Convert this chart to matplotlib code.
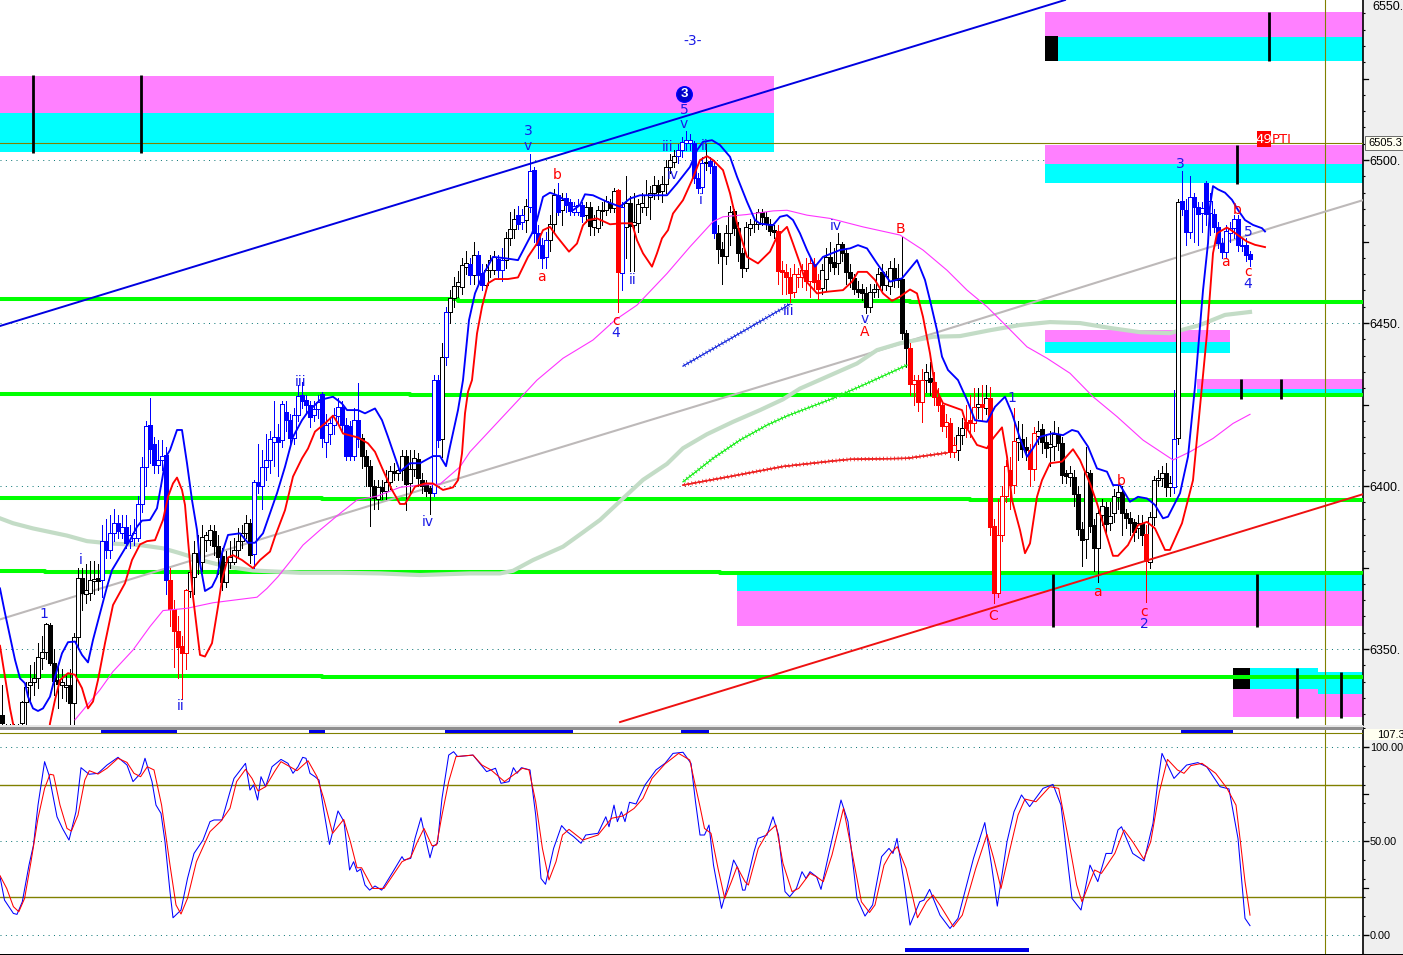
import numpy as np
import matplotlib
matplotlib.use("Agg")
import matplotlib.pyplot as plt
from matplotlib.patches import Rectangle
from matplotlib.ticker import MultipleLocator, FixedLocator, FuncFormatter
import matplotlib.patheffects as pe

W, H = 1403, 955
BASE = 6000.0
BAR_STEP = 4.0

# ---------- candles (price minus 6000), one row = 10 bars ----------
opens = [
329.8,325,325,325,325,327.2,333.9,339,340,341,
347.2,349.2,357.4,345.6,340.5,339,338.3,339,333.6,353.8,
371.7,367,367.3,371,371.7,371.2,383,380.4,385.7,388.6,
385.5,387.5,383,384,384,394.4,405.7,418.7,413,406.4,
408,409.5,371.2,362.2,355.6,351,348.9,367.9,372.2,379.6,
376.8,383.4,383.4,386.3,381.7,378.5,370.5,376.8,376.8,380.4,
383.1,385.5,388.8,379.3,401.1,400.1,405.7,408,413.6,415.1,
414.1,422.8,420.2,414.6,421.8,427.9,426.4,424.8,421.8,423.5,
428.2,413.4,416.1,418.7,421.5,424.3,418.7,418.4,409.2,420.2,
414.6,409.2,406.1,400,395.9,399.8,398.5,401.3,404.7,404.1,
404.9,409.2,401,405.1,408.2,402,400.6,399.3,398,432.5,
414.5,439.7,453.5,457.8,461.3,461.1,467.3,468.1,464.7,471,
465.4,461.6,466.2,466.2,469.8,466.4,469.3,476,479,483.3,
481,481.6,485.7,496.9,477.7,473.9,470.3,475.4,480.3,489.2,
484.8,488.5,487.2,484.1,484.1,486.2,483.1,485.5,479.5,479.3,
484.4,484.6,486.7,485.2,490.8,465.4,479.5,486.7,480,480.8,
485.7,485.5,488.7,489.8,492.3,490.6,492.6,497.9,499.5,501.2,
503.2,505.1,505.3,505.1,494.6,491.8,499,499.7,498.1,477.5,
472.6,470.5,477.5,484.3,479.2,471.6,467,479.2,480.3,480.5,
484.1,482.6,480.5,478.5,478.3,466.2,465.7,464.2,459.6,464.2,
464.2,466.2,462.9,468.1,463.2,460.9,463.5,470.3,468.8,468.3,
474.2,471.4,465.7,463.7,460.6,460.3,459.1,454.8,459.6,460.3,
465.7,461.6,461.3,467,463.2,463.4,446.8,442.2,431.2,432.5,
425.9,432.5,433,432,427.4,424.8,418.5,419.4,410.3,411.1,
415.7,419.7,420.2,419.4,424.1,425.2,423.8,426.9,387.7,367.3,
385,397,404.9,400.3,413.6,414.3,412.1,411,405.1,415.3,
417.4,413.6,412,412.3,415.9,413.1,403.9,402.9,402.9,397.6,
386.8,383.7,404.1,388,380.9,391.1,393.5,388.6,391.8,396.5,
398.3,391.6,390.1,388.9,387,388.8,385.2,376.8,390.6,401.9,
402.4,404.1,399.6,399.8,414.6,487.3,484.7,477.9,488.8,485.7,
483.7,492.9,483.7,483.4,479.4,474.5,471.7,477.6,479.1,481.8,
474,474,471.2]
closes = [
327.2,326,326,326,326,333.9,338.5,340,341,347.5,
349,357.6,345.8,340.3,339.3,340,339,333.6,353.8,371.7,
367.3,368,371.2,371.5,370.9,383,380.4,385.7,388.8,386.3,
387.5,382.6,385,385.5,394.4,405.7,418.4,411.5,406.4,408,
409.2,371.2,362.2,355.6,350.7,348.7,368,373.7,379.4,376.8,
384.5,385,386.5,381.6,378.3,370.5,376.8,378.3,380.4,383.1,
385.5,388.6,379,401.3,400,405.7,408,414.3,415.1,413.6,
425.3,420.2,414.6,421.8,427.6,426.2,424.8,421.3,423.5,425.9,
414.6,418.7,419.2,421.8,424.3,418.7,409.2,409.2,420.2,414.3,
409.2,406.1,400,396.2,399.6,398.5,401.3,404.6,403.9,404.9,
409.2,400.6,405.1,408.5,402.4,400,398.6,398,432.5,414.1,
439.7,453.3,457.8,461.3,462.7,467.8,468.3,464.7,471,464.7,
461.6,466.2,469.3,470.3,466.4,469.3,476,479,481.8,480.5,
483.1,485.9,496.7,477.5,473.9,470.1,475.4,480.3,489.2,484.1,
487.9,486.2,484.4,485.9,486.1,482.8,485.7,479.8,481.6,484.8,
484.8,487.5,485.2,490.6,465.7,485.7,486.9,479.7,481.1,486.5,
486.7,489.2,489.8,492.3,490.3,492.6,497.9,500,501.2,503.2,
505.6,506.1,506.1,494.6,491.5,499,499.5,498.1,477.5,472.6,
470.5,477.5,484.1,479.2,471.4,467,479.5,480.5,480.5,484.1,
482.4,480.5,478.3,478,466.1,465.7,464.2,459.3,465.2,465.2,
466.2,462.9,468.3,462.7,460.6,466.2,470.3,468.5,467.1,474.4,
471.4,465.7,463.7,460.6,459.6,459.1,455,459.6,460.3,465.2,
461.6,464.4,467,463.4,463.7,446.8,442.2,431.2,432.5,425.9,
432.5,434.9,432,427.2,424.8,418.5,419.7,410.3,412.6,415.7,
417.7,417.7,419.2,424.1,425.2,424.1,426.9,387.3,367.3,385,
396.9,406.1,400.3,413.9,414.6,411.3,411,405.1,416.2,417,
413.6,411.8,413,415.9,413.1,403.4,403.1,403.9,397.6,386.8,
383.5,404.4,387.7,380.9,391.6,393.9,388.3,390.8,396.9,398.3,
391.6,390.1,388.6,386,388.6,385,377,390.4,402,402.4,
403.9,399.8,400.8,414.3,487.2,484.9,477.9,488.8,485.7,483.4,
485.2,483.4,487.3,479.4,474.5,471.9,478.1,479.1,481.8,473.8,
473.7,470.9,469.6]
highs = [
339,327,327,327,327,334,340,345,346,352,
354,358,358,350,345,344,342,344,355,375,
375,376,377,377,376,388,390,391,393,391,
391,391,388,390,397,409,420,427,415,414,
414,412,375,365,360,354,368.5,376,383,385,
388,386,388,388,385,381,380,383,384,387,
388,391,390,402,413,411,416,417,426,419,
426,426,422,424,431,432,428,426,426,428,
429,422,421,424,427,426,421,420,424,431.5,
416,411,408,402,402,402,405,406,407,406,
411,411,411,411,410,404,402,400,434,434,
444,455,460,464,466,470,472,470,475,472,
468,468,471,472,471,473,478,484,485,486,
485,488,502,498,480,476,478,483,491,493,
490,490,488,487,488,487,487,487,483,486,
487,489,488,491.5,491,487,495,489,490,488,
490,494,492,495,494,495,500,502,503,505,
507,509,508,506,496,501,505,501,500,480,
475,480,486,485,481,473,481,482,482,485,
485,484,482,480,480,469,468,467,468,467,
468,470,470,470,465,468,473,475,473,477.5,
475,473,468,465,463,462,461,462,462,467,
468,466,469,470,468,476.5,448,444,434,434,
436,437.5,438,435,430,426,422,421,415,418,
421,425,428,430,430,431,431,430.5,390,396,
400,408,409,424,420,419,415,413,418,420,
419,416,417,420,418,415,405,406,405,400,
389,412,405,390,393,396,395,395,399,400,
400,393,392,390,391,391,388,392,403,405,
406,407,403,429.5,488,496.5,488,495,490,487,
487,493.5,490,485,481,476,480,481,483,483,
476,476,472]
lows = [
327,324,324,324,324,326,326,334,336,338,
344,347,345,336,332,335,334,327,327,350,
362,364,365,367,368,366,378,378,383,384,
384,381,381,382,383,392,400,407,404,404,
405,367,357,344.4,341,334.8,344,366,367,373,
374,380,382,379,373,368,369,375,376,378,
381,384,376.5,375,398,393,402,404,406,403,
412,417,413,413,420,424,422,418,420,421,
412,409,413,416,419,417,408,408,408,412,
405.5,400,387.8,393,393,396,396,399,402,402,
402,392.5,398,403,400,398,397,391.5,397,412,
409,437,450,455,458,459,465,462,462,462,
460,460,464,465,464,463,467,474,476,479,
479,478,484,475,470,467,467,472,478,483,
480,484,483,483,483,481,481,477,477,478,
480,483,484,484,453.5,460,470,466,466,478,
484,483,482,488,488,487,490,496,498,499,
501,503,503,493,490,490,497,496,476,468.5,
462,468,474,477,469,464,466,477,478,479,
480,479,477,476,462,459,459,456.5,458,461,
461,460,458,460,457.5,459,460,466,465,465,
469,462,461,459,458,457,453,453.5,458,458,
460,460,459,461,461,445,436.5,428,425,423,
419.5,429,428,425,423,417,415,409,409,408,
413,415,415,417,421,420,422,385,364,366,
383,395,393,398,408,409,408,400,402,413,
410,409,406,408,411,401,401,400,394,385,
375.6,378,386,374,370.5,388,386,386.5,389,393,
385,387,385,383,384,382,364.3,375,388,400,
400,397,397,398,413,483,474,476,475,474,
478,480,477,478,473,470,470,475,476,472,
472,469,467.5]
tone_names = list("kbr" + "kbkbkbkbkbkbkbkbkbkb" + "krb" + "kbkb" + "k" + "rkrkrkrkrkrkrk" + "rkbkb")
tone_counts = [25,17,5,16,27,18,2,1,1,5,1,1,2,3,2,3,2,1,5,2,1,1,5,8,1,1,13,7,1,2,15,
               11,22,4,2,6,2,3,1,1,1,7,3,2,27,1,6,1,1,18]

# ---------- indicator lines: (time, price minus 6000) ----------
blue_ma = [(0,368.6),(5,361),(10,353.8),(15,346.7),(20,341),(25,339.5),(28,335.4),(33,331.8),(38,331),(43,331.8),(50,335.4),(55,341.5),(62,348.7),(68,352.1),(75,352.3),(82,348.2),(88,345.9),(93,352.8),(100,361),(107,369.1),(112,374.2),(120,378.3),(130,383.4),(137,387.5),(142,389.4),(150,389.6),(157,393.2),(162,401.8),(166,409),(170,411),(177,417.2),(182,417.2),(187,407),(192,395.7),(197,386.5),(200,376.3),(205,367.8),(212,369.1),(217,372.2),(222,379.4),(228,385),(240,385.5),(248,382.6),(255,382.6),(263,385.5),(270,391.6),(277,397.8),(285,405.9),(293,415.1),(302,420.2),(308,422.8),(320,426.4),(333,427.4),(342,425.3),(347,423.3),(358,423.3),(365,422.3),(375,423.8),(382,420.2),(388,415.1),(397,407),(400,404.4),(410,407),(420,407),(433,409.2),(440,409.2),(446,406.1),(450,412.1),(458,423.3),(463,432.5),
(469,450.9),(475,459.1),(482,464.2),(493,470.3),(507,469.8),(518,469.3),(525,473.4),(532,477.5),(537,481.6),(543,488.7),(550,490),(557,489.2),(565,487.7),(573,484.6),(580,486.2),(585,489.5),(593,489.2),(607,487.2),(620,485.7),(630,488.2),(640,489.2),(667,489.2),(677,492.8),(690,497.9),(697,503),(703,505.6),(712,506.1),(720,504.6),(730,501),(737,494.9),(747,487.2),(755,481.6),(760,480.5),(773,480),(780,482.6),(787,483.1),(793,481.6),(800,477.5),(807,472.4),(815,467.3),(823,470.3),(840,472.4),(850,472.9),(858,473.9),(867,472.9),(877,468.3),(883,465.7),(890,462.7),(902,463.7),
(917,469.3),(925,463.2),(930,457),(937,447.8),(942,439.7),(948,435.6),(958,432.5),(967,426.4),(975,420.2),(987,419.7),(995,424.3),(1005,427.4),(1012,422.3),(1020,414.6),(1027,409),(1033,411.6),(1040,415.1),(1053,416.2),(1063,415.6),(1072,417.2),(1078,416.7),(1088,412.1),(1097,405.4),(1107,404.4),(1113,400.3),(1120,400.3),(1130,395.2),(1138,396.7),(1147,396.2),(1155,394.2),(1163,390.1),(1168,390.6),(1180,397.8),(1188,409),(1195,430.5),(1200,448.9),(1203,460),(1208,474.5),(1210,485.7),(1213,492),(1218,491),(1225,490),(1232,487.8),(1238,484.7),(1245,481.6),(1253,480.1),(1262,479.1),(1265,478.1)]
red_ma = [(0,351),(5,341.5),(10,331.8),(13,327.2),(25,315),(45,315),(50,327.2),(55,334.4),(60,340.5),(68,342.6),(75,342.1),(82,338),(88,331.8),(93,333.9),(98,340.5),(105,351.8),(113,363.5),(125,370.2),(132,377.3),(140,382.1),(147,383.1),(155,383.4),(163,389.6),(168,396.7),(173,400.8),(177,402.6),(182,398.8),(185,394.2),(188,383.4),(193,366.1),(200,348.2),(205,347.7),(212,351.8),(218,363),(222,371.2),(228,378.1),(233,378.8),(242,377.3),(253,374.8),(260,377.3),(270,379.9),(275,384.5),(285,392.6),(293,402.9),(302,408.5),(308,411.5),(315,416.7),(325,419.2),(333,421.6),(338,419.2),(343,416.1),(358,414.9),(368,413.1),(375,410.5),(383,404.9),(392,398.8),(400,394.5),(405,394.5),(415,399.8),(425,400.8),(433,400.8),(443,398.8),(453,399.6),(458,401.8),(462,410),(465,422.3),(468,428.9),
(472,432.5),(477,446.8),(482,455),(488,462.2),(495,463.5),(508,463.5),(518,464),(528,470.3),(537,474.4),(543,478.5),(550,479.5),(557,476.5),(569,471.9),(577,474.4),(583,480),(588,481.6),(597,482.1),(610,480.3),(622,480.6),(632,480.6),(637,475.4),(643,471.4),(652,467.3),(657,471.4),(662,476),(668,478.5),(673,483.6),(683,487.7),(692,493.8),(700,500),(707,501.2),(713,500),(723,496.9),(730,489.8),(737,480.6),(747,470.3),(758,468.3),(770,471.9),(777,476.5),(787,479.5),(793,474.4),(800,468.3),(805,463.2),(817,459.1),(827,459.6),(843,460.1),(852,462.7),(858,465.7),(867,465.7),(875,463.2),(883,459.1),(892,456.8),(900,458.1),(910,460.3),
(917,459.1),(923,451.9),(930,440.7),(935,430.5),(943,425.4),(953,424.3),(962,423.3),(968,417.2),(977,412.6),(987,411.6),(993,414.6),(1002,418),(1007,409),(1012,395.7),(1020,386.5),(1025,379.4),(1030,382.4),(1037,396.7),(1042,401.8),(1050,407),(1062,407.5),(1073,411.3),(1080,408),(1090,400.8),(1097,394.7),(1105,386.5),(1113,378.6),(1118,378.6),(1128,381.9),(1138,388),(1147,389),(1155,387),(1165,380.4),(1170,380.4),(1182,388.6),(1193,401.8),(1200,424.3),(1207,446.8),(1213,471.4),(1217,477.5),(1220,478.1),(1227,479.3),(1233,478.1),(1240,476.5),(1247,475),(1255,474),(1265,473.3)]
magenta_ma = [(75,328.3),(100,337.5),(113,343.1),(133,349.7),(150,356.9),(163,361.8),(187,362.5),(213,364.2),(257,365.9),(267,368.6),(278,372.2),(290,376.8),(303,381.9),(320,386.5),(340,391.6),(357,395.7),(377,396.9),(400,399.6),(420,400.3),(440,400.6),(460,405.9),(470,410.5),(537,432.5),(563,439.2),(593,444.8),(615,450.9),(637,455.5),(667,465.2),(690,473.4),(713,481.1),(723,482.6),(747,483.3),(773,484.4),(787,484.6),(807,483.1),(830,482.1),(863,479.5),(900,477),(923,472.4),(947,466.2),(967,460.1),(987,455),(1007,448.9),(1027,442.7),(1047,439.2),(1070,434.6),(1093,427.4),(1117,421.3),(1143,414.1),(1173,408),(1190,410.5),(1213,414.6),(1233,419.2),(1250,422)]
grey_ma = [(0,359.1),(470,403.4),(880,441.7),(1280,480),(1363,487.7)]
pale_ma = [(0,390.1),(13,388.6),(33,387),(67,384.8),(87,383.1),(110,382.4),(140,381.9),(163,380.9),(180,379.4),(207,376.8),(227,375.3),(253,374.1),(300,373.4),(340,373.4),(380,373.2),(420,372.7),(470,373.2),(500,373.2),(513,374),(533,377.3),(563,381.4),(583,385.8),(600,389.6),(623,396.2),(643,401.9),(667,406.8),(683,411.6),(707,415.9),(733,419.7),(760,423.3),(783,426.6),(800,429.9),(823,433),(857,437.6),(877,441.7),(900,443.8),(933,445.8),(960,446),(990,447.8),(1020,449.4),(1050,450.3),(1080,450),(1110,448.5),(1140,447.2),(1170,446.9),(1200,449.4),(1225,452.5),(1250,453.4)]
blue_trend = [(0,449.1),(1065,549.1)]
red_trend = [(620,327.6),(1363,397.5)]
blue_fan = [(683,436.8),(790,455.8)]
green_fan = [(683,401.3),(713,408.5),(740,414.1),(767,418.7),(787,421.5),(833,426.9),(867,431.5),(907,437.1)]
red_fan = [(683,400.3),(733,403.1),(783,406),(833,407.7),(850,408.2),(907,408.5),(947,410.2)]
support_levels = [
    [(0,457.3),(458,456.9),(910,456.6),(1363,456.4)],
    [(0,428.3),(410,428.0),(1363,427.7)],
    [(0,396.4),(322,396.1),(970,395.8),(1363,395.7)],
    [(0,373.9),(45,373.5),(720,373.2),(1363,373.0)],
    [(0,341.8),(322,341.5),(1363,341.4)],
]

# ---------- supply / demand zones ----------
zone_left  = [0,1045,1045,1045,1197,737,1233,1318]
zone_right = [774,1363,1363,1230,1363,1363,1318,1363]
zone_pink  = [(514.4,525.8),(537.7,545.4),(498.8,504.6),(444.2,447.9),(429.8,432.8),(357,367.8),(329.1,337.7),(329.1,336.2)]
zone_cyan  = [(502.5,514.4),(530.4,537.7),(492.9,498.8),(440.8,444.2),(427.6,429.8),(367.8,373),(337.7,344.2),(336.2,342.9)]
block_left = [1045,1233]
block_right = [1058,1250]
block_span = [(530.4,538),(337.7,344.2)]
marker_t = [33,141,1269,1237,1241,1281,1053,1257,1297,1341]
marker_low = [502.1,502.1,530.4,492.6,426.7,426.7,356.7,356.7,328.8,328.8]
marker_high = [526.1,526.1,545.4,504.6,432.8,432.8,373,373,344.2,342.9]

# ---------- wave labels ----------
blue_labels = [("1",44,360.7),("i",81,377.3),("ii",181,332.5),("iii",301,431.9),("iv",428,389),("3",528,508.9),("v",528,504.3),
               ("ii",633,463.2),("4",616,446.9),("iii",668,504),("iv",673,495.4),("5",684,515.3),("v",684,511),("ii",705,504.3),
               ("i",701,487.7),("iii",789,453.7),("iv",836,479.8),("v",865,451.2),("1",1012,427),("2",1144,357.7),("3",1180,498.8),
               ("5",1248,477.9),("4",1248,462),("-3-",693,536.5)]
red_labels = [("a",541,464.1),("b",557,495.4),("c",616,450.6),("A",865,447.2),("B",900,478.8),("C",993,360.1),("a",1097,367.5),
              ("b",1121,401.5),("c",1144,361.3),("a",1225,468.7),("b",1237,484.7),("c",1248,465.6)]

# ---------- stochastic oscillator ----------
stoch_k = [(0,31),(4.5,18.6),(13.4,11.5),(17,11),(22.3,17.7),(29,37.2),(33.5,47.9),(38,69.1),(44.6,92.2),(49,85.1),(57,62.9),(62.5,56.7),(69,50.5),(76,65.6),(81,89),(89,85.5),(98,86),(107,90.4),(118,94.5),(127,90.4),(133,81.6),(140.6,86),(145,94),(152,81.6),(156,69.1),(161,64.7),(165,49.6),(170,23),(173,9.2),(181,13.3),(187.5,30.1),(194,43.4),(203,50.5),(210,60.3),(214,61.2),(222,61.2),(230,76.2),(234,83.3),(245.5,91.3),(250,77.1),(253.6,79.8),(257.6,71.8),(261,84.2),(265.6,78.9),(272,89.5),(281,93.4),(288,91.3),(293,86),(298,89.5),(302.7,94.5),(306,94),(310,86),(315,84.2),(319,82.4),(323.7,66.5),(329.5,48.2),(338,66),(344,60.3),(349.6,34.6),(353.6,39),(357,33.7),(360.7,35.1),(365,26.6),(369.6,23.9),(375,26.1),(381.7,23.9),(393,33.7),(402,41.7),(404,39.9),(410.7,40.8),(415,51.4),(421,62.4),(426.3,49.6),(430,41.1),(433,47),(437.5,48.8),(442,72.7),(448.7,95.7),(453.6,97.5),(457.6,94.9),(473,95.7),(486.6,86.9),(495.5,88.7),(501,80.7),(509,81.6),(513.4,89),(517,86),(521.4,89),(530,87.8),(535.7,63.8),(538,49.6),(541,30.1),(545.5,27),(553.6,46.1),(561.6,58.2),(567,55),(573.7,52.3),(581,48.8),(585.7,53.2),(598,54.1),(605.8,62.9),(609,57.6),(614,69.1),(617.4,60.3),(621.4,65.6),(625,60.3),(629.5,70.6),(636,69.7),(645,79.8),(656,87.8),(665,91.3),(673,96.6),(683,97.2),(691,91.3),(695.5,70.9),(700,53.2),
(704.5,53.2),(709,58.5),(713.5,37.2),(721.5,14.2),(727,24.8),(733.6,39.9),(738,35.5),(742.6,23.9),(745,23.9),(754,44.3),(758,51.4),(767,53.2),(773,62.9),(778.5,53.2),(785,23.1),(789.7,20.4),(796.4,24.8),(802,33.7),(806,30.1),(810,33.7),(816.6,31),(821,24.3),(830,46.1),(841,71.8),(848,60.3),(857,19.5),(865,10.1),(872.6,16),(881.6,41.7),(889,46.1),(893,43.4),(897,51.4),(904,28.4),(910,5.3),(919.7,17.7),(924,18.6),(929.6,24.3),(940,10.6),(950,3.5),(958,8.9),(973.5,40.8),(984.8,59.8),(991.5,37.2),(997.3,15.4),(1007,49.6),(1014,65.6),(1021.5,74.5),(1029.6,68.3),(1043,78),(1053,80.1),(1061,69.1),(1072,19.5),(1081,13.3),(1090,37.2),(1097.8,28.4),(1106,43.4),(1111.7,43.4),(1118,55.9),(1121.5,57.6),(1132.7,43.4),(1144,39.4),(1153,59.4),(1157.4,79.8),(1162,96.6),(1174,83.3),(1186.6,90.4),(1197.8,91.7),(1206.7,89.5),(1220,78.9),(1229,77.7),(1238,51.4),(1245,8.9),(1250,5)]
stoch_d = [(0,31.6),(6.7,24.8),(13.4,15.1),(18.8,12.4),(24.6,19.5),(31,39),(38,62.1),(44.6,78),(50,85.5),(53.6,85.1),(60,69.1),(67,56.7),(71.4,55.3),(78,63.8),(84.8,82.4),(89.3,87.4),(98,85.6),(107,88.7),(118,94),(127,91.8),(134,86),(140.6,84.2),(147.3,89.5),(154,87.8),(161.6,69.1),(170,37.2),(176,16),(181,11.2),(187.5,19.5),(196.4,39),(210,55),(221,60.6),(230,67.4),(236.6,81.6),(245.5,88.1),(252,83.3),(258,76.6),(265.6,78.9),(274.5,86.9),(281,92.2),(290,89.5),(297,87.4),(308,92.7),(317,84.2),(323.7,72.7),(332.6,54.1),(343.7,61.5),(350.4,49.6),(357,35.8),(361.6,35.8),(372.8,24.8),(384,24.8),(402,39),(410.7,41.3),(417.4,49.6),(424,56.7),(432,47.5),(436.6,47.9),(442,63.8),(448.7,81.6),(456,94.9),(473,95.7),(482,90.4),(491,87.8),(504.5,81.6),(513.4,85.1),(522.3,88.7),(529,87.8),(535.7,70.9),(542.4,46.1),(549,29.3),(556,39),(562.5,53.2),(569,56.2),(582.6,50.5),(598,53.2),(611.6,62.1),(622.8,63.3),(634,67.3),(643,72.7),(652,83.3),(665,91),(678.6,96.6),(689.7,93.1),(700,68.3),
(704.5,56.7),(711,54.1),(718,35.5),(724.7,19.5),(731.4,28.4),(737,36.3),(745,28.4),(748.4,26.6),(758.3,46.1),(767,54.1),(776,58.5),(783,38.1),(792,23.1),(798.7,24.8),(810,32.8),(816.6,31),(823.3,28.4),(832,42.6),(843.5,67.4),(852.5,42.6),(861.4,17.7),(869.5,12),(875,16),(884,37.2),(890.6,43.4),(897.3,47),(906,35.5),(917.5,9.2),(926.5,17.7),(933,21.3),(940,15.9),(953.4,4.4),(962.3,10.6),(975.8,35.5),(987,53.5),(993.7,40.8),(1001,24.8),(1009.4,44.3),(1018,63.8),(1025,72.3),(1036,70.9),(1049.8,78.9),(1058.7,78),(1067.7,53.2),(1076.7,26.6),(1082,17.7),(1094.6,34.6),(1101.4,32.8),(1114.8,43.4),(1124,55.9),(1132.7,49.6),(1143.8,40.4),(1150.7,49.6),(1159.4,76.2),(1167.5,93.4),(1177.4,87.8),(1184,86),(1190.8,90.1),(1202,91.3),(1215.7,86),(1227,78),(1236,69.1),(1240.4,49.6),(1245,28.4),(1250,10.6)]
top_strip_left = [101,309,445,681,1181]
top_strip_right = [177,325,573,709,1233]
low_strip = (905,1029)
main_tick_labels = ["6350.", "6400.", "6450.", "6500."]
main_ticks = [6350, 6400, 6450, 6500]
osc_tick_labels = ["0.00", "50.00", "100.00"]
osc_ticks = [0, 50, 100]

# ---------- layout ----------
plt.rcParams["font.family"] = ["Liberation Sans", "DejaVu Sans"]
fig = plt.figure(figsize=(W/100, H/100), dpi=100, facecolor="white")
PLOT_W = 1363
def axes_rect(top, bottom):
    return [0, 1-bottom/H, PLOT_W/W, (bottom-top)/H]

fig.add_artist(Rectangle((PLOT_W/W, 0), 1-PLOT_W/W, 1, transform=fig.transFigure, fc="#efefef", ec="none", zorder=-5))

ax = fig.add_axes(axes_rect(0, 725))
ax2 = fig.add_axes(axes_rect(728, 955))
ax.set_xlim(0, PLOT_W); ax2.set_xlim(0, PLOT_W)
ax.set_ylim(6326.7, 6549.1)
ax2.set_ylim(-10.6, 110.1)
for a in (ax, ax2):
    for s in ("top", "left", "bottom"):
        a.spines[s].set_visible(False)
    a.spines["right"].set_color("black")
    a.spines["right"].set_linewidth(1.2)
    a.set_xticks([])
    a.yaxis.tick_right()
    a.patch.set_alpha(0)

TEAL = "#007070"; OLIVE = "#808000"
col_t = np.array([61.6,181,305,429,541.5,665,785,908,1028,1151,1275])
DOT = 0.4

# grids
for lvl in [6350,6400,6450,6500]:
    ax.axhline(lvl, color=TEAL, lw=0.7, ls=(0,(1,4.5)), zorder=1)
for lvl in [0,50,100]:
    ax2.axhline(lvl, color=TEAL, lw=0.7, ls=(0,(1,4.5)), zorder=1)
rt = np.arange(13, 1363, 28.0)
for lvl in [6375,6425,6475,6525]:
    ax.scatter(rt, np.full_like(rt, lvl), s=DOT, marker="s", color=TEAL, lw=0, zorder=1)
for lvl in [25,75]:
    ax2.scatter(rt, np.full_like(rt, lvl), s=DOT, marker="s", color=TEAL, lw=0, zorder=1)
pv = np.arange(6330, 6550, 5.0)
for t in col_t:
    ax.scatter(np.full_like(pv, t), pv, s=DOT, marker="s", color=TEAL, lw=0, zorder=1)
pv2 = np.arange(-5, 106, 10.0)
for t in col_t:
    ax2.scatter(np.full_like(pv2, t), pv2, s=DOT, marker="s", color=TEAL, lw=0, zorder=1)

# zones
for l, r, pk, cy in zip(zone_left, zone_right, zone_pink, zone_cyan):
    ax.add_patch(Rectangle((l, BASE+pk[0]), r-l, pk[1]-pk[0], fc="#ff80ff", ec="none", zorder=2))
    ax.add_patch(Rectangle((l, BASE+cy[0]), r-l, cy[1]-cy[0], fc="#00ffff", ec="none", zorder=2))
for l, r, sp in zip(block_left, block_right, block_span):
    ax.add_patch(Rectangle((l, BASE+sp[0]), r-l, sp[1]-sp[0], fc="black", ec="none", zorder=2.5))

# crosshair
ax.axhline(6505.3, color=OLIVE, lw=0.8, zorder=3)
ax.axvline(1325, color=OLIVE, lw=0.8, zorder=3)
ax2.axvline(1325, color=OLIVE, lw=0.8, zorder=3)
ax2.axhline(107.3, color=OLIVE, lw=0.8, zorder=3)
ax2.axhline(80, color=OLIVE, lw=1.0, zorder=2)
ax2.axhline(20, color=OLIVE, lw=1.0, zorder=2)

def line(a, pts, base=BASE, **kw):
    arr = np.array(pts, dtype=float)
    return a.plot(arr[:,0], arr[:,1]+base, **kw)

# support levels
for lev in support_levels:
    line(ax, lev, color="#00ff00", lw=2.9, solid_capstyle="butt", zorder=4, drawstyle="steps-post")

# slow lines
line(ax, grey_ma, color="#bdb9b9", lw=1.5, zorder=4.2)
line(ax, pale_ma, color="#c3dcc6", lw=3.0, zorder=4.3)

# candles
opens_a = np.array(opens)+BASE; closes_a = np.array(closes)+BASE
highs_a = np.array(highs)+BASE; lows_a = np.array(lows)+BASE
tones = np.repeat(tone_names, tone_counts)
n = min(len(opens_a), len(closes_a), len(highs_a), len(lows_a), len(tones))
bar_t = 2 + np.arange(n)*BAR_STEP
cmap = {"k":"black","b":"#0000ff","r":"#ff0000"}
for code, c in cmap.items():
    m = tones[:n] == code
    ax.vlines(bar_t[m], lows_a[:n][m], highs_a[:n][m], color=c, lw=0.72, zorder=5, antialiased=False)
    up = m & (closes_a[:n] >= opens_a[:n])
    dn = m & (closes_a[:n] < opens_a[:n])
    ax.bar(bar_t[up], (closes_a[:n]-opens_a[:n])[up], bottom=opens_a[:n][up], width=3.6,
           facecolor="white", edgecolor=c, lw=0.72, zorder=5.1, antialiased=False)
    ax.bar(bar_t[dn], (closes_a[:n]-opens_a[:n])[dn], bottom=opens_a[:n][dn], width=3.6,
           facecolor=c, edgecolor=c, lw=0.6, zorder=5.1, antialiased=False)

# trend + MA
line(ax, blue_trend, color="#0000e0", lw=1.4, zorder=5.5)
line(ax, red_trend, color="#ee1111", lw=1.4, zorder=5.5)
line(ax, magenta_ma, color="#ff33ff", lw=0.8, zorder=6)
line(ax, red_ma, color="#ff0000", lw=1.35, zorder=6.2)
line(ax, blue_ma, color="#0000ff", lw=1.35, zorder=6.3)
for pts, c, w in ((blue_fan,"#2233dd",0.6),(green_fan,"#22ee22",0.6),(red_fan,"#ee2222",0.9)):
    line(ax, pts, color=c, lw=w, zorder=6,
         path_effects=[pe.Stroke(linewidth=w, foreground=c),
                       pe.withTickedStroke(angle=90, spacing=2.6, length=0.45, linewidth=0.6, foreground=c),
                       pe.withTickedStroke(angle=-90, spacing=2.6, length=0.45, linewidth=0.6, foreground=c)])

# black markers
ax.vlines(marker_t, np.array(marker_low)+BASE, np.array(marker_high)+BASE, color="black", lw=2.0, zorder=7)

# labels
LABEL_FONT = ["DejaVu Sans"]
for txt, t, p in blue_labels:
    ax.text(t, BASE+p, txt, color="#1a1ae6", fontsize=10, family=LABEL_FONT, ha="center", va="center", zorder=8)
for txt, t, p in red_labels:
    ax.text(t, BASE+p, txt, color="#ff0000", fontsize=10, family=LABEL_FONT, ha="center", va="center", zorder=8)
ax.text(1282, 6506.4, "PTI", color="#ff0000", fontsize=9.5, family=LABEL_FONT, ha="center", va="center", zorder=8)
ax.add_patch(Rectangle((1257, 6504.0), 14, 4.9, fc="#ff0000", ec="none", zorder=8))
ax.text(1264, 6506.3, "49", color="white", fontsize=9.5, family=LABEL_FONT, ha="center", va="center", zorder=8.2)
ax.scatter([684], [6520.2], s=125, color="#0000cc", edgecolor="#0000ff", zorder=8)
ax.text(684, 6520.2, "3", color="white", fontsize=9.5, fontweight="bold", ha="center", va="center", zorder=8.2)

# y axes
ax.yaxis.set_major_locator(FixedLocator(main_ticks))
ax.yaxis.set_major_formatter(FuncFormatter(lambda v, _: dict(zip(main_ticks, main_tick_labels)).get(int(round(v)), "")))
ax.yaxis.set_minor_locator(MultipleLocator(5))
ax.tick_params(axis="y", which="major", length=4.3, width=1.0, pad=0.5, labelsize=9)
ax.tick_params(axis="y", which="minor", length=1.5, width=0.8)
ax2.yaxis.set_major_locator(FixedLocator(osc_ticks))
ax2.yaxis.set_major_formatter(FuncFormatter(lambda v, _: dict(zip(osc_ticks, osc_tick_labels)).get(int(round(v)), "")))
ax2.yaxis.set_minor_locator(MultipleLocator(10))
ax2.tick_params(axis="y", which="major", length=4.3, width=1.0, pad=0.5, labelsize=7.8)
ax2.tick_params(axis="y", which="minor", length=1.5, width=0.8)
for lvl in [6375, 6425, 6475, 6525]:
    ax.plot([PLOT_W, PLOT_W+5], [lvl, lvl], color="black", lw=0.9, clip_on=False, zorder=3)
for lvl in [25, 75]:
    ax2.plot([PLOT_W, PLOT_W+5], [lvl, lvl], color="black", lw=0.9, clip_on=False, zorder=3)

# top label of the price scale and the two value boxes at the crosshair
fig.text(1372/W, 1-1/H, "6550.", fontsize=9, va="top", ha="left")
fig.add_artist(Rectangle((1365/W, 1-150/H), 38/W, 14/H, transform=fig.transFigure, fc="#fffff0", ec="#555555", lw=0.6))
fig.text(1368/W, 1-143.5/H, "6505.3", fontsize=8, va="center", ha="left")
fig.add_artist(Rectangle((1364/W, 1-740/H), 39/W, 11/H, transform=fig.transFigure, fc="#fffff0", ec="none"))
fig.text(1377/W, 1-735/H, "107.3", fontsize=8, va="center", ha="left")

# oscillator
line(ax2, stoch_k, base=0, color="#0000ff", lw=0.75, zorder=5)
line(ax2, stoch_d, base=0, color="#ff0000", lw=0.75, zorder=6)
for l, r in zip(top_strip_left, top_strip_right):
    ax2.add_patch(Rectangle((l, 107.6), r-l, 2.2, fc="#0000e6", ec="none", zorder=6))
ax2.add_patch(Rectangle((low_strip[0], -9.0), low_strip[1]-low_strip[0], 2.0, fc="#0000e6", ec="none", zorder=6))

# pane separator and bottom edge
fig.add_artist(Rectangle((0, 1-729.5/H), PLOT_W/W, 2.5/H, transform=fig.transFigure, fc="#8f8f8f", ec="none"))
fig.add_artist(Rectangle((0, 1-727/H), PLOT_W/W, 2/H, transform=fig.transFigure, fc="#e6e6e6", ec="none"))
fig.add_artist(Rectangle((0, 0), 1, 1.2/H, transform=fig.transFigure, fc="black", ec="none"))

fig.savefig("out.png", dpi=100)
